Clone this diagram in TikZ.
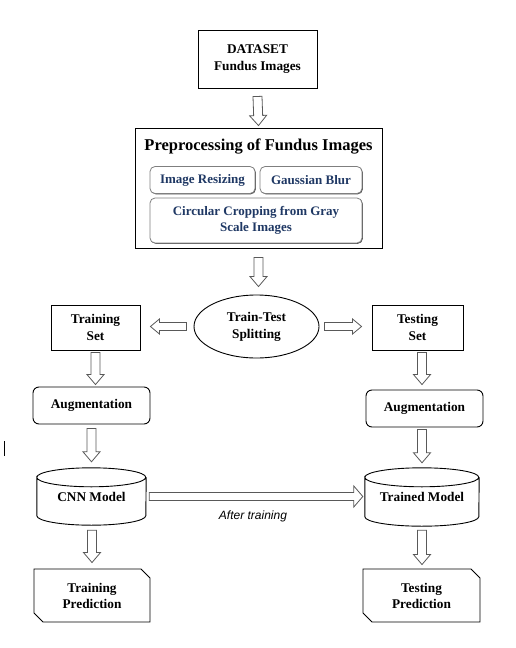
\documentclass[tikz,border=0pt]{standalone}
\usepackage{fontspec}
\setmainfont{Liberation Serif}
\newfontfamily\notefont{Liberation Sans}
\usetikzlibrary{calc,shapes.geometric,shapes.misc,shadows}

\definecolor{navytext}{HTML}{1F3864}
\definecolor{arrowgray}{HTML}{595959}
\definecolor{innerline}{HTML}{7F7F7F}

\newcommand\shaftw{4.5pt}
\newcommand\headw{8.5pt}
\newcommand\headl{10pt}

\tikzset{
  box/.style={draw, line width=0.9pt, align=center, inner sep=0pt,
    font=\bfseries\fontsize{13.3}{17}\selectfont},
  roundbox/.style={box, rounded corners=6pt},
  subbox/.style={draw=innerline, fill=white, line width=0.8pt, rounded corners=5pt,
    align=center, inner sep=0pt, text=navytext,
    font=\bfseries\fontsize{13}{15.5}\selectfont,
    drop shadow={shadow xshift=0.8pt, shadow yshift=-0.8pt, fill=black!70, opacity=1}},
  cutbox/.style={box, chamfered rectangle, chamfered rectangle corners={north east,south west},
    chamfered rectangle xsep=4.5pt, chamfered rectangle ysep=4.5pt,
    font=\bfseries\fontsize{13.3}{16}\selectfont},
  dbnode/.style={align=center, inner sep=0pt, font=\bfseries\fontsize{13.3}{17}\selectfont},
  arrowsize/.code args={#1/#2/#3}{\def\shaftw{#1}\def\headw{#2}\def\headl{#3}},
  blockarrow/.style={draw=arrowgray, fill=white, line width=0.8pt,
    to path={let \p1=($(\tikztotarget)!\headl!(\tikztostart)$) in
      ($(\tikztostart)!\shaftw!90:(\tikztotarget)$) -- ($(\p1)!\shaftw!90:(\tikztotarget)$)
      -- ($(\p1)!\headw!90:(\tikztotarget)$) -- (\tikztotarget)
      -- ($(\p1)!\headw!-90:(\tikztotarget)$) -- ($(\p1)!\shaftw!-90:(\tikztotarget)$)
      -- ($(\tikztostart)!\shaftw!-90:(\tikztotarget)$) -- cycle}},
}

% cylinder outline round a node: name, x radius
\newcommand\drawdb[2]{%
  \draw[line width=0.9pt] ([yshift=-9.5pt]#1.north west)
    arc[start angle=180, end angle=-180, x radius=#2, y radius=9.5pt]
    -- ([yshift=9.5pt]#1.south west)
    arc[start angle=180, end angle=360, x radius=#2, y radius=9.5pt]
    -- ([yshift=-9.5pt]#1.north east);}

\begin{document}
\begin{tikzpicture}[x=1pt, y=-1pt]
    \useasboundingbox (0,0) rectangle (516,648);

    % dataset and preprocessing
    \node[box, minimum width=119pt, minimum height=58pt] (data) at (257.5,59) {DATASET\\Fundus Images};
    \node[box, minimum width=247pt, minimum height=120pt] (prep) at (258.5,188.5) {};
    \node[font=\bfseries\fontsize{16.5}{19}\selectfont] (preptitle) at (258.5,147) {Preprocessing of Fundus Images};
    \node[subbox, minimum width=105pt, minimum height=27pt] (resize) at (202.5,180) {Image Resizing};
    \node[subbox, minimum width=102pt, minimum height=27pt] (blur) at (311,180) {Gaussian Blur};
    \node[subbox, minimum width=212pt, minimum height=45pt] (crop) at (256,220.5) {Circular Cropping from Gray\\Scale Images};

    % splitting
    \node[box, ellipse, minimum width=125pt, minimum height=63pt] (split) at (256.5,326.5) {Train-Test\\Splitting};
    \node[box, minimum width=89pt, minimum height=45pt] (trainset) at (95.5,327.5) {Training\\Set};
    \node[box, minimum width=91pt, minimum height=45pt] (testset) at (417.5,327.5) {Testing\\Set};

    % augmentation and models
    \node[roundbox, minimum width=117pt, minimum height=37pt] (augtrain) at (91.5,405.5) {Augmentation};
    \node[roundbox, minimum width=117pt, minimum height=37pt] (augtest) at (424.5,408.5) {Augmentation};
    \node[dbnode, minimum width=109pt, minimum height=57pt] (cnn) at (91.5,496.5) {CNN Model};
    \node[dbnode, minimum width=114pt, minimum height=58pt] (trained) at (422,497) {Trained Model};
    \drawdb{cnn}{54.5pt}
    \drawdb{trained}{57pt}
    \node[font=\notefont\itshape\fontsize{12}{14}\selectfont] (afterlbl) at (253,516) {After training};

    % predictions
    \node[cutbox, minimum width=116pt, minimum height=53pt] (predtrain) at (92,595.5) {Training\\Prediction};
    \node[cutbox, minimum width=117pt, minimum height=53pt] (predtest) at (421.5,595.5) {Testing\\Prediction};

    \draw[line width=1pt] (4,441) -- (4,456);

    % block arrows
    \draw[blockarrow] ([yshift=-8pt]data.south) to ([yshift=2.5pt]prep.north);
    \draw[blockarrow] ([yshift=-8.5pt]prep.south) to ([yshift=8pt]prep.south |- split.north);
    \draw[blockarrow, arrowsize=4pt/7.5pt/9pt] ([xshift=-7pt]split.west) to ([xshift=10pt]trainset.east |- split.west);
    \draw[blockarrow, arrowsize=4pt/7.5pt/9pt] ([xshift=5pt]split.east) to ([xshift=-10pt]testset.west |- split.east);
    \draw[blockarrow] ([yshift=-2pt]trainset.south) to ([yshift=2pt]trainset.south |- augtrain.north);
    \draw[blockarrow] ([yshift=-2pt]testset.south -| trained.north) to ([yshift=5pt]trained.north |- augtest.north);
    \draw[blockarrow] ([yshift=-4pt]augtrain.south) to ([yshift=6pt]cnn.north);
    \draw[blockarrow] ([yshift=-2pt]augtest.south -| trained.north) to ([yshift=5pt]trained.north);
    \draw[blockarrow, arrowsize=4pt/10.5pt/9pt] ([xshift=3pt]cnn.east) to ([xshift=-2pt]trained.west |- cnn.east);
    \draw[blockarrow] ([yshift=-5pt]cnn.south -| predtrain.north) to ([yshift=6pt]predtrain.north);
    \draw[blockarrow] ([yshift=-4pt]trained.south) to ([yshift=4pt]trained.south |- predtest.north);
\end{tikzpicture}
\end{document}
